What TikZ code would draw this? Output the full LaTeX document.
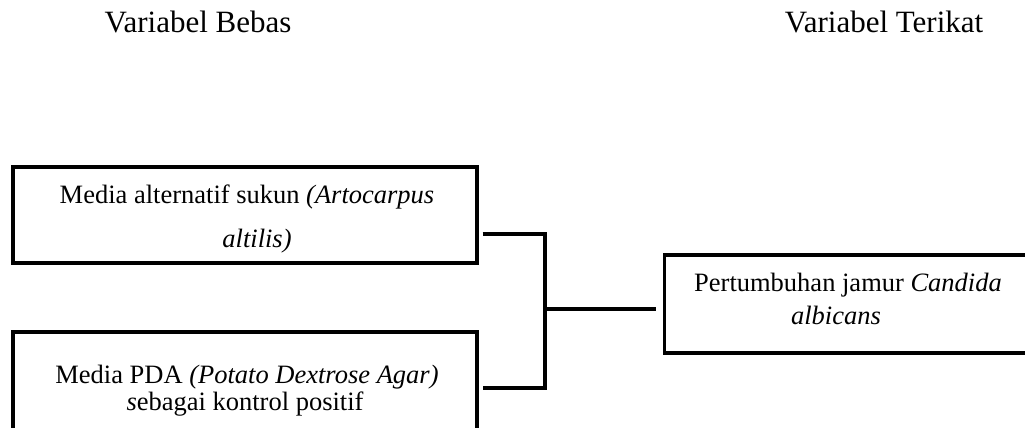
\documentclass[tikz,border=0pt]{standalone}
\usepackage{fontspec}
\setmainfont{Liberation Serif}
\begin{document}
\begin{tikzpicture}[x=1pt,y=-1pt,
  box/.style={draw=black,line width=3.2pt,fill=none,inner sep=0pt},
  head/.style={anchor=base,inner sep=0pt,font=\fontsize{31}{36}\selectfont},
  txt/.style={anchor=base,inner sep=0pt,font=\fontsize{26.5}{30}\selectfont},
  link/.style={draw=black,line width=3.2pt}]
\useasboundingbox (0,0) rectangle (1025,428);
% headers
\node[head] (h1) at (198,33) {Variabel Bebas};
\node[head] (h2) at (884,33) {Variabel Terikat};
% boxes
\node[box,minimum width=464pt,minimum height=96pt] (b1) at (245,215) {};
\node[box,minimum width=464pt,minimum height=110pt] (b2) at (245,387) {};
\node[box,minimum width=385pt,minimum height=98pt] (b3) at (857,304) {};
% texts
\node[txt] (t11) at (247,203) {Media alternatif sukun \textit{(Artocarpus}};
\node[txt] (t12) at (257,247) {\textit{altilis)}};
\node[txt] (t21) at (247,383) {Media PDA \textit{(Potato Dextrose Agar)}};
\node[txt] (t22) at (245,410) {\textit{s}ebagai kontrol positif};
\node[txt] (t31) at (848,291) {Pertumbuhan jamur \textit{Candida}};
\node[txt] (t32) at (836,324) {\textit{albicans}};
% connectors
\coordinate (j1) at (545,234);
\coordinate (j2) at (545,388);
\coordinate (jm) at (545,309);
\draw[link] ([xshift=4pt]b1.east |- j1) -- (j1) -- (j2) -- ([xshift=4pt]b2.east |- j2);
\draw[link] (jm) -- ([xshift=-7pt]b3.west |- jm);
\end{tikzpicture}
\end{document}
